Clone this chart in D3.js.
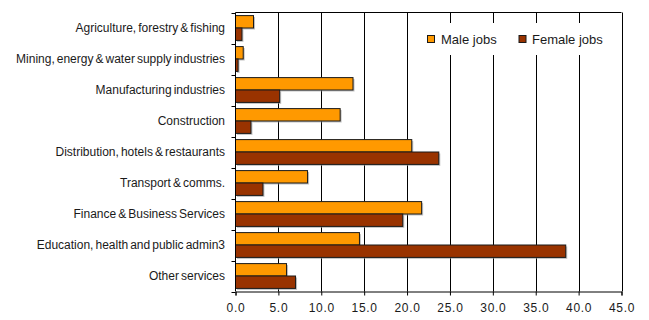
<!DOCTYPE html>
<html>
<head>
<meta charset="utf-8">
<script src="https://cdn.jsdelivr.net/npm/d3@7"></script>
<style>
  html, body { margin: 0; padding: 0; background: #fff; }
  svg { display: block; font-family: "Liberation Sans", Arial, sans-serif; }
</style>
</head>
<body>
<svg id="chart" width="649" height="320"></svg>
<script>
// Share of jobs by industry, male vs female (%)
const categories = [
  "Agriculture, forestry & fishing",
  "Mining, energy & water supply industries",
  "Manufacturing industries",
  "Construction",
  "Distribution, hotels & restaurants",
  "Transport & comms.",
  "Finance & Business Services",
  "Education, health and public admin3",
  "Other services"
];
const maleJobs   = [2.1, 0.9, 13.7, 12.2, 20.55, 8.4, 21.7, 14.45, 5.95];
const femaleJobs = [0.75, 0.3, 5.15, 1.8, 23.7, 3.2, 19.5, 38.5, 7.0];
const seriesNames = ["Male jobs", "Female jobs"];
const seriesColors = ["#FF9900", "#993300"];
const xTicks = [0, 5, 10, 15, 20, 25, 30, 35, 40, 45];

const svg = d3.select("#chart");
const plotLeft = 235.5, plotRight = 621.5, plotTop = 12.5, plotBottom = 291.5;

const x = d3.scaleLinear().domain([0, 45]).range([plotLeft, plotRight]);
const y = d3.scaleBand().domain(categories).range([plotTop, plotBottom])
  .paddingInner(0.2).paddingOuter(0.1);
const ySub = d3.scaleBand().domain(seriesNames).range([0, y.bandwidth()]);

// vertical gridlines
svg.append("g").selectAll("line").data(xTicks.slice(1)).join("line")
  .attr("x1", d => Math.round(x(d)) + 0.5).attr("x2", d => Math.round(x(d)) + 0.5)
  .attr("y1", plotTop).attr("y2", plotBottom)
  .attr("stroke", "#000").attr("stroke-width", 1);

// top border
svg.append("line").attr("x1", plotLeft).attr("x2", plotRight)
  .attr("y1", plotTop).attr("y2", plotTop)
  .attr("stroke", "#000");

// legend background
const legend = svg.append("g");
legend.append("rect").attr("x", 417).attr("y", 23).attr("width", 199).attr("height", 32)
  .attr("fill", "#fff");

// bars
const rows = categories.map((c, i) => ({ cat: c, vals: [maleJobs[i], femaleJobs[i]] }));
const barG = svg.append("g");
rows.forEach(r => {
  r.vals.forEach((v, j) => {
    const by = y(r.cat) + ySub(seriesNames[j]);
    const bh = ySub.bandwidth();
    // soft drop shadow
    barG.append("rect")
      .attr("x", x(0) + 1.5).attr("y", by + 1.5)
      .attr("width", x(v) - x(0)).attr("height", bh)
      .attr("fill", "#9a9a9a").attr("opacity", 0.6);
    barG.append("rect")
      .attr("x", x(0)).attr("y", by)
      .attr("width", x(v) - x(0)).attr("height", bh)
      .attr("fill", seriesColors[j])
      .attr("stroke", "#1a1a1a").attr("stroke-width", 1);
  });
});

// y axis: line, boundary ticks, labels
const yAxis = svg.append("g");
yAxis.append("line").attr("x1", plotLeft).attr("x2", plotLeft)
  .attr("y1", plotTop).attr("y2", plotBottom)
  .attr("stroke", "#000");
const step = y.step();
d3.range(categories.length + 1).forEach(i => {
  const ty = Math.round(plotTop + i * step) + 0.5;
  yAxis.append("line").attr("x1", plotLeft - 4).attr("x2", plotLeft).attr("y1", ty).attr("y2", ty)
    .attr("stroke", "#000");
});
yAxis.selectAll("text").data(categories).join("text")
  .attr("x", 225).attr("y", d => y(d) + y.bandwidth() / 2)
  .attr("dy", "0.35em").attr("text-anchor", "end")
  .attr("font-size", 12).attr("fill", "#1a1a1a")
  .attr("word-spacing", "-1.3px")
  .text(d => d);

// x axis
const xAxis = svg.append("g").attr("transform", `translate(0,${plotBottom})`)
  .call(d3.axisBottom(x).tickValues(xTicks).tickFormat(d3.format(".1f"))
    .tickSize(4).tickPadding(8));
xAxis.select(".domain").attr("stroke", "#000");
xAxis.selectAll(".tick line").attr("stroke", "#000");
xAxis.selectAll(".tick text")
  .attr("font-size", 12).attr("font-family", "'Liberation Sans', Arial, sans-serif")
  .attr("fill", "#1a1a1a").attr("letter-spacing", "0.7px");

// legend
const legendItems = [
  { name: seriesNames[0], color: seriesColors[0], sx: 427, tx: 441 },
  { name: seriesNames[1], color: seriesColors[1], sx: 518.5, tx: 532 }
];
legendItems.forEach(it => {
  legend.append("rect").attr("x", it.sx + 0.5).attr("y", 35.5).attr("width", 7).attr("height", 7)
    .attr("fill", it.color).attr("stroke", "#1a1a1a");
  legend.append("text").attr("x", it.tx).attr("y", 39).attr("dy", "0.35em")
    .attr("font-size", 13).attr("fill", "#1a1a1a").text(it.name);
});
</script>
</body>
</html>
